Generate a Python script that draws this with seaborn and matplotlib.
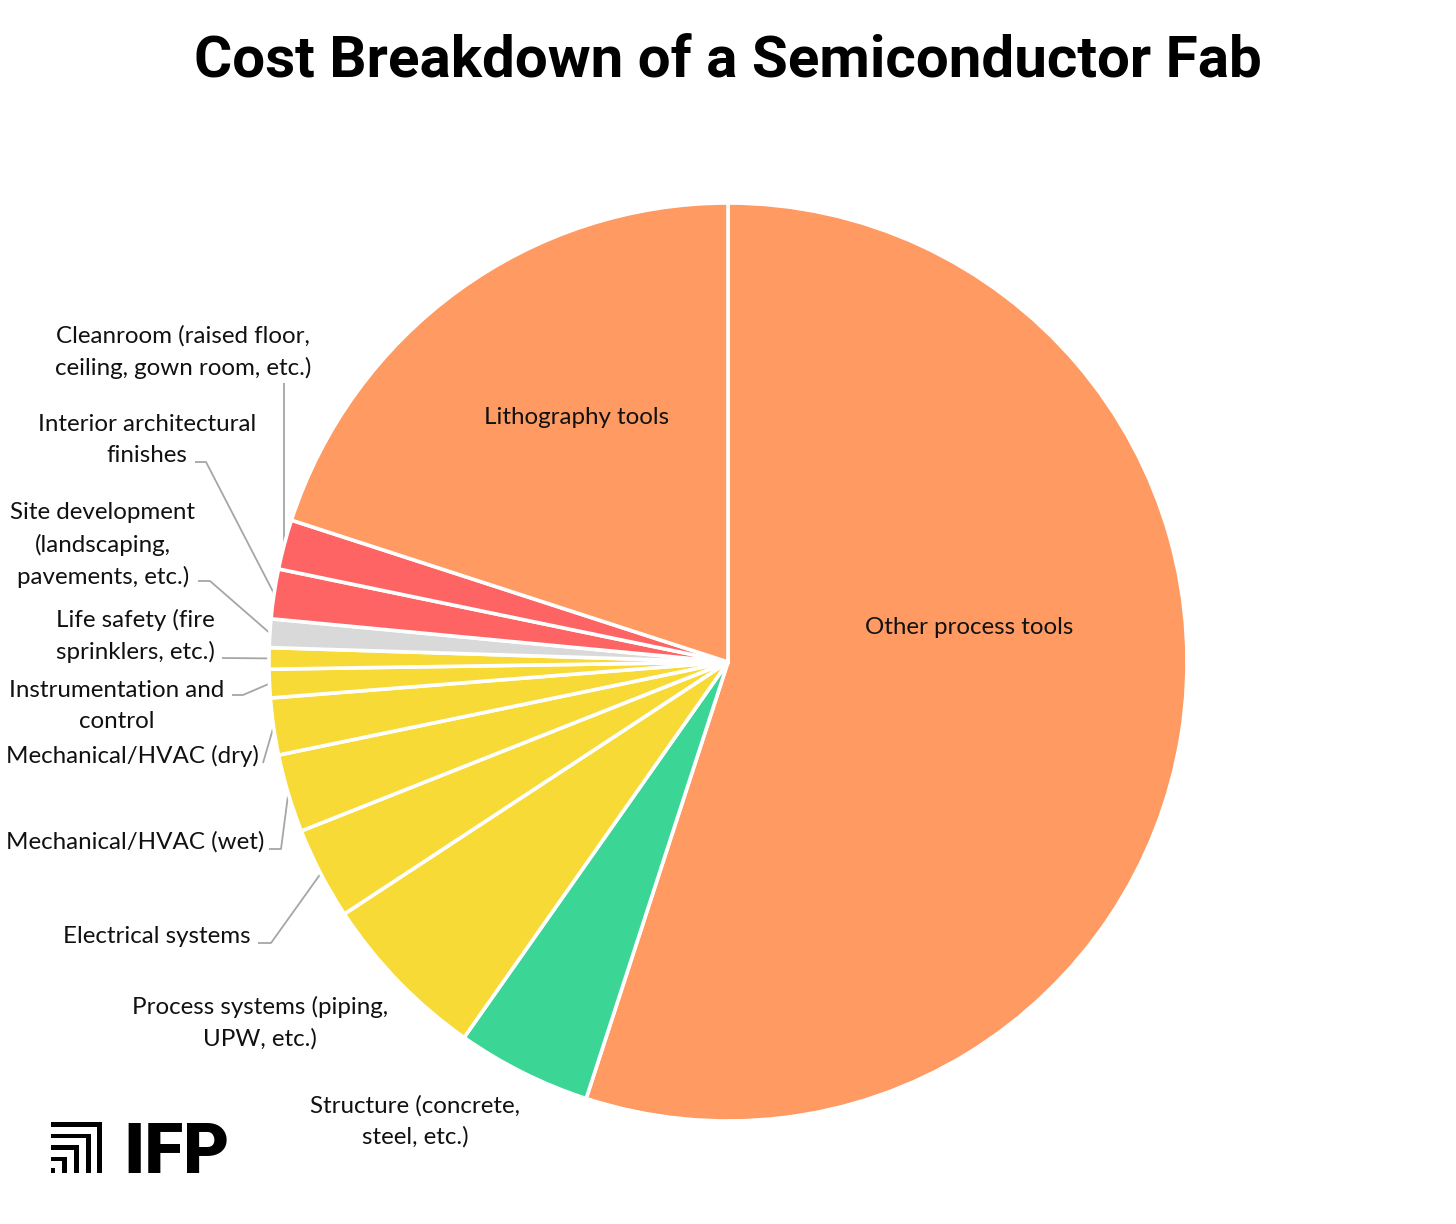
import numpy as np
import matplotlib
matplotlib.use("Agg")
import matplotlib.pyplot as plt
import seaborn as sns
from matplotlib.patches import Rectangle

# ---------------- data ----------------
categories = [
    "Other process tools",
    "Structure (concrete,\nsteel, etc.)",
    "Process systems (piping,\nUPW, etc.)",
    "Electrical systems",
    "Mechanical/HVAC (wet)",
    "Mechanical/HVAC (dry)",
    "Instrumentation and\ncontrol",
    "Life safety (fire\nsprinklers, etc.)",
    "Site development\n(landscaping,\npavements, etc.)",
    "Interior architectural\nfinishes",
    "Cleanroom (raised floor,\nceiling, gown room, etc.)",
    "Lithography tools",
]
shares = [55.0, 4.75, 6.0, 3.25, 2.75, 2.0, 1.0, 0.75, 1.0, 1.75, 1.75, 20.0]
groups = ["tools", "structure", "systems", "systems", "systems", "systems",
          "systems", "systems", "site", "interior", "interior", "tools"]
group_colors = {
    "tools": "#FE9A62",
    "structure": "#3BD596",
    "systems": "#F8DA36",
    "site": "#D9D9D9",
    "interior": "#FE6463",
}
title = "Cost Breakdown of a Semiconductor Fab"

# ---------------- style ----------------
sns.set_theme(style="white")
plt.rcParams["font.family"] = ["Lato", "DejaVu Sans"]

W, H, DPI = 1456, 1224, 100
CX, CY, R = 728, 662, 459  # pie centre / radius in pixels (layout)

fig = plt.figure(figsize=(W / DPI, H / DPI), dpi=DPI)
fig.patch.set_facecolor("white")
ax = fig.add_axes([0, 0, 1, 1])


def px(x, y):
    """pixel layout position -> data coords (pie radius = 1)"""
    return (x - CX) / R, (CY - y) / R


colors = sns.color_palette([group_colors[g] for g in groups])
wedges, _ = ax.pie(
    shares, colors=colors, startangle=90, counterclock=False, radius=1.0,
    wedgeprops=dict(edgecolor="white", linewidth=2.6),
)
ax.set_xlim(-CX / R, (W - CX) / R)
ax.set_ylim((CY - H) / R, CY / R)
ax.set_aspect("equal", adjustable="datalim")
ax.axis("off")

# label layout: text centre (px) and leader path points (px) before the wedge
layout = {
    0: dict(text=(969, 627), leader=None),
    1: dict(text=(415, 1121), leader=None),
    2: dict(text=(260, 1023), leader=None),
    3: dict(text=(157, 936), leader=[(258, 943), (271, 943)]),
    4: dict(text=(135, 842), leader=[(269, 849), (281, 849)]),
    5: dict(text=(132, 756), leader=[(263, 763)]),
    6: dict(text=(117, 706), leader=[(232, 695), (243, 695)]),
    7: dict(text=(135, 636), leader=[(222, 658)]),
    8: dict(text=(103, 545), leader=[(198, 581), (210, 581)]),
    9: dict(text=(147, 440), leader=[(195, 462), (206, 462)]),
    10: dict(text=(183, 352), leader="vertical"),
    11: dict(text=(577, 417), leader=None),
}

for i, w in enumerate(wedges):
    lay = layout[i]
    tx, ty = px(*lay["text"])
    ax.text(tx, ty, categories[i], ha="center", va="center",
            multialignment="center", fontsize=17.4, color="#111111",
            linespacing=1.55)
    mid = np.deg2rad((w.theta1 + w.theta2) / 2)
    ex, ey = np.cos(mid), np.sin(mid)
    if lay["leader"] is None:
        continue
    if lay["leader"] == "vertical":
        pts = [(ex, px(0, 383)[1]), (ex, ey)]
    else:
        pts = [px(*p) for p in lay["leader"]] + [(ex, ey)]
    xs, ys = zip(*pts)
    ax.plot(xs, ys, color="#A6A6A6", lw=1.3, solid_capstyle="butt", zorder=0)

# title
fig.text(CX / W, 1 - 61 / H, title, ha="center", va="center",
         fontsize=42, fontweight="bold", family=["Roboto", "DejaVu Sans"],
         color="black")

# IFP logo
lax = fig.add_axes([0, 0, 1, 1], zorder=5)
lax.set_xlim(0, W)
lax.set_ylim(H, 0)
lax.axis("off")
left, bottom = 51, 1173
for k, (top, right) in enumerate([(1122, 102), (1133.5, 90.5), (1145, 78.5), (1156.5, 67)]):
    lax.add_patch(Rectangle((left, top), right - left, 4.6, color="black", lw=0))
    lax.add_patch(Rectangle((right - 5, top), 5, bottom - top, color="black", lw=0))
lax.add_patch(Rectangle((51, 1168), 4, 5, color="black", lw=0))
lax.text(123, 1173, "IFP", ha="left", va="baseline", fontsize=51,
         fontweight="heavy", family=["Roboto", "DejaVu Sans"], color="black")

fig.savefig("out.png", dpi=DPI, facecolor="white")
